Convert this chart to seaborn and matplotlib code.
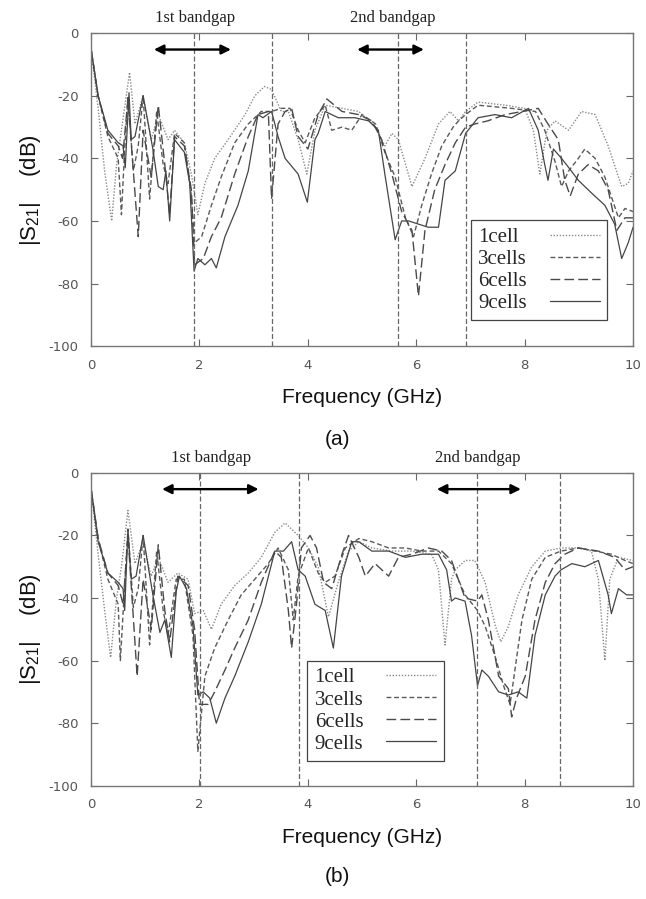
import matplotlib
matplotlib.use("Agg")
import matplotlib.pyplot as plt
import seaborn as sns

# panel (a) traces, GHz / dB
a_1cell_f = [0, 0.13, 0.25, 0.38, 0.47, 0.56, 0.71, 0.81, 0.96, 1.11, 1.24, 1.42, 1.54, 1.72, 1.85, 1.97, 2.10, 2.28,
             2.53, 2.84, 3.02, 3.20, 3.33, 3.51, 3.64, 3.82, 3.98, 4.13, 4.32, 4.63, 4.94, 5.25, 5.42, 5.55, 5.67, 5.92,
             6.16, 6.41, 6.62, 6.78, 6.91, 7.14, 7.64, 8.00, 8.16, 8.28, 8.41, 8.56, 8.81, 9.05, 9.30, 9.54, 9.79, 9.91, 10.0]
a_1cell_db = [-5, -24, -44, -60, -42, -31, -12.5, -29, -20, -34, -26, -34, -31, -35, -45, -58, -48, -40,
              -34, -26, -20, -17, -18, -25, -25, -34, -45, -31, -23, -24, -25, -30, -36, -32, -34, -49,
              -40, -29, -25, -28, -25, -22, -23, -24, -31, -45, -31, -28, -31, -25, -26, -36, -49, -48, -44]

a_3cells_f = [0, 0.13, 0.31, 0.50, 0.56, 0.62, 0.68, 0.78, 0.87, 0.96, 1.08, 1.21, 1.33, 1.42, 1.54, 1.72, 1.85, 1.91,
              2.04, 2.22, 2.40, 2.65, 2.90, 3.14, 3.33, 3.51, 3.67, 3.82, 3.95, 4.13, 4.32, 4.44, 4.63, 4.81, 5.00, 5.25,
              5.42, 5.61, 5.80, 5.95, 6.10, 6.28, 6.47, 6.68, 6.78, 6.91, 7.14, 7.76, 8.20, 8.37, 8.56, 8.68, 8.81, 8.99,
              9.11, 9.30, 9.48, 9.73, 9.85, 10.0]
a_3cells_db = [-5, -20, -33, -40, -58, -37, -20, -44, -36, -20, -53, -25, -42, -48, -32, -35, -52, -67,
               -65, -55, -46, -35, -29, -25, -25, -24, -24, -31, -35, -27, -23, -31, -30, -31, -26, -29,
               -38, -46, -59, -65, -55, -45, -36, -30, -28, -26, -23, -24, -25, -31, -41, -49, -44, -40,
               -37, -40, -46, -59, -56, -57]

a_6cells_f = [0, 0.13, 0.31, 0.50, 0.58, 0.68, 0.87, 0.96, 1.11, 1.24, 1.36, 1.45, 1.54, 1.72, 1.85, 1.91, 2.07, 2.22,
              2.40, 2.65, 2.90, 3.08, 3.27, 3.33, 3.45, 3.58, 3.70, 3.82, 4.00, 4.19, 4.35, 4.63, 4.94, 5.18, 5.36, 5.55,
              5.73, 5.92, 6.04, 6.16, 6.34, 6.53, 6.72, 6.91, 7.08, 7.32, 7.64, 7.95, 8.25, 8.43, 8.62, 8.74, 8.84, 8.99,
              9.17, 9.36, 9.54, 9.70, 9.85, 10.0]
a_6cells_db = [-5, -20, -32, -36, -40, -21, -65, -31, -46, -23, -42, -58, -33, -36, -50, -74, -72, -65,
               -59, -45, -33, -26, -25, -53, -29, -25, -24, -33, -37, -26, -21, -25, -26, -28, -34, -45,
               -57, -63, -84, -63, -50, -42, -35, -30, -29, -28, -26, -25, -24, -29, -34, -47, -52, -45,
               -42, -44, -50, -63, -59, -59]

a_9cells_f = [0, 0.13, 0.31, 0.50, 0.59, 0.63, 0.70, 0.74, 0.81, 0.96, 1.14, 1.24, 1.33, 1.38, 1.45, 1.54, 1.72, 1.82,
              1.90, 1.97, 2.10, 2.22, 2.31, 2.47, 2.71, 2.90, 3.08, 3.17, 3.33, 3.45, 3.58, 3.82, 3.99, 4.13, 4.19, 4.32,
              4.56, 4.87, 5.12, 5.30, 5.42, 5.61, 5.73, 5.86, 6.04, 6.22, 6.41, 6.53, 6.72, 6.91, 7.14, 7.45, 7.76, 8.07,
              8.25, 8.37, 8.43, 8.53, 8.68, 8.86, 8.99, 9.23, 9.48, 9.66, 9.79, 9.91, 10.0]
a_9cells_db = [-5, -20, -31, -35, -36, -43, -19, -34, -33, -20, -37, -49, -50, -44, -60, -34, -38, -48,
               -76, -72, -74, -72, -75, -65, -55, -44, -26, -27, -25, -33, -40, -45, -54, -34, -32, -25,
               -27, -27, -28, -31, -45, -66, -60, -60, -61, -62, -62, -47, -44, -32, -27, -26, -27, -24,
               -31, -42, -47, -37, -40, -44, -47, -51, -55, -61, -72, -67, -62]

# panel (b) traces
b_1cell_f = [0, 0.13, 0.25, 0.36, 0.47, 0.56, 0.68, 0.81, 0.96, 1.11, 1.24, 1.42, 1.60, 1.79, 1.91, 2.07, 2.22, 2.40,
             2.65, 2.90, 3.14, 3.39, 3.58, 3.70, 3.82, 4.01, 4.19, 4.38, 4.56, 4.75, 4.94, 5.18, 5.55, 5.92, 6.28, 6.41,
             6.53, 6.65, 6.72, 6.90, 7.08, 7.27, 7.46, 7.56, 7.70, 7.88, 8.13, 8.38, 8.67, 8.99, 9.23, 9.36, 9.48, 9.57,
             9.73, 10.0]
b_1cell_db = [-5, -26, -44, -59, -40, -30, -12, -29, -22, -33, -27, -35, -32, -34, -45, -44, -50, -42,
              -36, -32, -27, -19, -16, -18, -20, -24, -30, -46, -35, -25, -22, -24, -25, -25, -26, -31,
              -55, -34, -31, -28, -28, -35, -49, -54, -49, -39, -30, -25, -24, -24, -25, -34, -60, -34,
              -27, -28]

b_3cells_f = [0, 0.13, 0.31, 0.50, 0.54, 0.62, 0.68, 0.78, 0.87, 0.96, 1.08, 1.21, 1.33, 1.42, 1.57, 1.72, 1.88, 1.97,
              2.10, 2.28, 2.53, 2.77, 3.02, 3.27, 3.45, 3.64, 3.73, 3.82, 4.01, 4.19, 4.32, 4.50, 4.69, 4.94, 5.18, 5.49,
              5.80, 6.10, 6.41, 6.65, 6.90, 7.13, 7.27, 7.46, 7.61, 7.73, 7.82, 7.95, 8.13, 8.38, 8.67, 8.99, 9.30, 9.60,
              9.85, 10.0]
b_3cells_db = [-5, -21, -34, -42, -60, -36, -18, -43, -37, -20, -55, -25, -44, -52, -34, -34, -52, -89,
               -65, -56, -47, -39, -34, -29, -24, -31, -47, -33, -24, -32, -35, -33, -24, -21, -22, -24,
               -24, -25, -25, -29, -39, -44, -49, -59, -68, -74, -63, -47, -34, -27, -25, -24, -25, -26,
               -28, -29]

b_6cells_f = [0, 0.13, 0.31, 0.50, 0.59, 0.68, 0.85, 0.96, 1.11, 1.24, 1.36, 1.45, 1.60, 1.79, 1.91, 2.00, 2.16, 2.28,
              2.47, 2.65, 2.90, 3.14, 3.39, 3.51, 3.64, 3.70, 3.79, 3.88, 4.04, 4.16, 4.29, 4.44, 4.63, 4.75, 4.94, 5.06,
              5.24, 5.49, 5.67, 5.92, 6.22, 6.47, 6.65, 6.90, 7.13, 7.21, 7.33, 7.52, 7.70, 7.76, 7.85, 8.01, 8.19, 8.38,
              8.56, 8.74, 8.99, 9.36, 9.66, 9.85, 10.0]
b_6cells_db = [-5, -21, -32, -36, -42, -20, -65, -34, -50, -23, -44, -54, -33, -36, -50, -74, -74, -70,
               -63, -56, -47, -35, -25, -27, -44, -56, -42, -24, -20, -24, -35, -37, -26, -20, -27, -33,
               -29, -33, -27, -26, -24, -25, -28, -40, -41, -39, -47, -65, -69, -78, -72, -65, -47, -35,
               -29, -26, -24, -25, -27, -31, -30]

b_9cells_f = [0, 0.13, 0.31, 0.50, 0.59, 0.62, 0.68, 0.74, 0.83, 0.96, 1.14, 1.27, 1.36, 1.48, 1.57, 1.63, 1.76, 1.88,
              1.97, 2.07, 2.19, 2.31, 2.47, 2.65, 2.90, 3.14, 3.39, 3.55, 3.70, 3.82, 3.95, 4.13, 4.32, 4.47, 4.62, 4.81,
              4.94, 5.18, 5.49, 5.80, 6.10, 6.41, 6.56, 6.65, 6.72, 6.90, 7.02, 7.13, 7.21, 7.33, 7.52, 7.70, 7.88, 8.04,
              8.19, 8.38, 8.56, 8.67, 8.87, 9.11, 9.36, 9.54, 9.60, 9.73, 9.88, 10.0]
b_9cells_db = [-5, -22, -32, -35, -37, -44, -18, -34, -33, -20, -39, -51, -47, -59, -38, -33, -37, -49,
               -71, -70, -72, -80, -72, -65, -54, -42, -25, -25, -22, -31, -33, -42, -44, -56, -33, -22,
               -22, -25, -25, -27, -26, -26, -31, -41, -40, -41, -52, -68, -63, -65, -70, -71, -70, -72,
               -52, -39, -33, -31, -29, -30, -28, -39, -45, -37, -39, -39]

labels = ["1cell", "3cells", "6cells", "9cells"]

# bandgap edges and arrows
a_edges = [1.90, 3.33, 5.66, 6.92]
b_edges = [2.01, 3.84, 7.12, 8.65]
a_arrows = [(1.16, 2.58, 1.92, "1st bandgap"), (4.91, 6.14, 5.57, "2nd bandgap")]
b_arrows = [(1.31, 3.09, 2.21, "1st bandgap"), (6.38, 7.93, 7.14, "2nd bandgap")]

styles = [
    dict(color="#8a8a8a", linestyle=(0, (1, 1.2)), lw=1.0),
    dict(color="#5a5a5a", linestyle=(0, (3.5, 2)), lw=1.0),
    dict(color="#4a4a4a", linestyle=(0, (7, 3)), lw=1.0),
    dict(color="#454545", linestyle="-", lw=0.9),
]

sns.set_style("ticks")
plt.rcParams["font.family"] = ["DejaVu Sans"]
plt.rcParams["axes.unicode_minus"] = False

fig = plt.figure(figsize=(6.46, 8.99), dpi=100)
ax_a = fig.add_axes([0.141, 0.615, 0.839, 0.348])
ax_b = fig.add_axes([0.141, 0.126, 0.839, 0.348])


def fix_legend(leg):
    # left-align the labels, keep the line samples flush right
    fig.canvas.draw()
    r = fig.canvas.get_renderer()
    widths = [t.get_window_extent(r).width * 72.0 / fig.dpi for t in leg.get_texts()]
    wmax = max(widths)
    k = 0
    for col in leg._legend_handle_box.get_children():
        col.align = "left"
        for item in col.get_children():
            item.sep = item.sep + (wmax - widths[k])
            k += 1


def draw(ax, series, edges, arrows, leg_pos, tag_y, tag):
    for (f, db), lab, st in zip(series, labels, styles):
        sns.lineplot(x=f, y=db, ax=ax, label=lab, **st)
    for e in edges:
        ax.axvline(e, color="#666666", lw=0.9, linestyle=(0, (4, 2)))
    for x1, x2, xt, txt in arrows:
        ax.annotate("", xy=(x2, -5.2), xytext=(x1, -5.2),
                    arrowprops=dict(arrowstyle="<|-|>", color="black", lw=1.7,
                                    mutation_scale=14, shrinkA=0, shrinkB=0))
        ax.text(xt, 1.048, txt, transform=ax.get_xaxis_transform(), ha="center", va="center",
                fontsize=12, family="Liberation Serif", color="#222222")
    ax.set_xlim(0, 10)
    ax.set_ylim(-100, 0)
    ax.set_xticks(range(0, 11, 2))
    ax.set_yticks(range(-100, 1, 20))
    ax.tick_params(direction="in", top=True, right=True, length=5, width=0.8, color="#666666",
                   labelsize=9.5, labelcolor="#555555", pad=9)
    for sp in ax.spines.values():
        sp.set_color("#777777")
        sp.set_linewidth(1.0)
    ax.set_xlabel("Frequency (GHz)", fontsize=15, family="Liberation Sans", labelpad=12, color="#111111")
    ax.set_ylabel(r"|S$_{\mathregular{21}}$|    (dB)", fontsize=16, family="Liberation Sans",
                  labelpad=4, color="#111111")
    leg = ax.legend(loc="upper left", bbox_to_anchor=leg_pos, borderaxespad=0, markerfirst=False,
                    frameon=True, fancybox=False, edgecolor="#444444", framealpha=1,
                    prop=dict(family="Liberation Serif", size=15), handlelength=2.4,
                    handletextpad=1.1, labelspacing=0.12, borderpad=0.35)
    leg.get_frame().set_linewidth(0.9)
    fig.text(0.523, tag_y, tag, ha="center", va="center",
             fontsize=15, family="Liberation Sans", color="#111111")
    return leg


leg_a = draw(ax_a, [(a_1cell_f, a_1cell_db), (a_3cells_f, a_3cells_db), (a_6cells_f, a_6cells_db),
                    (a_9cells_f, a_9cells_db)], a_edges, a_arrows, (0.701, 0.403), 1 - 440 / 899, "(a)")
leg_b = draw(ax_b, [(b_1cell_f, b_1cell_db), (b_3cells_f, b_3cells_db), (b_6cells_f, b_6cells_db),
                    (b_9cells_f, b_9cells_db)], b_edges, b_arrows, (0.399, 0.40), 1 - 876 / 899, "(b)")
fix_legend(leg_a)
fix_legend(leg_b)

fig.savefig("out.png", dpi=100)
